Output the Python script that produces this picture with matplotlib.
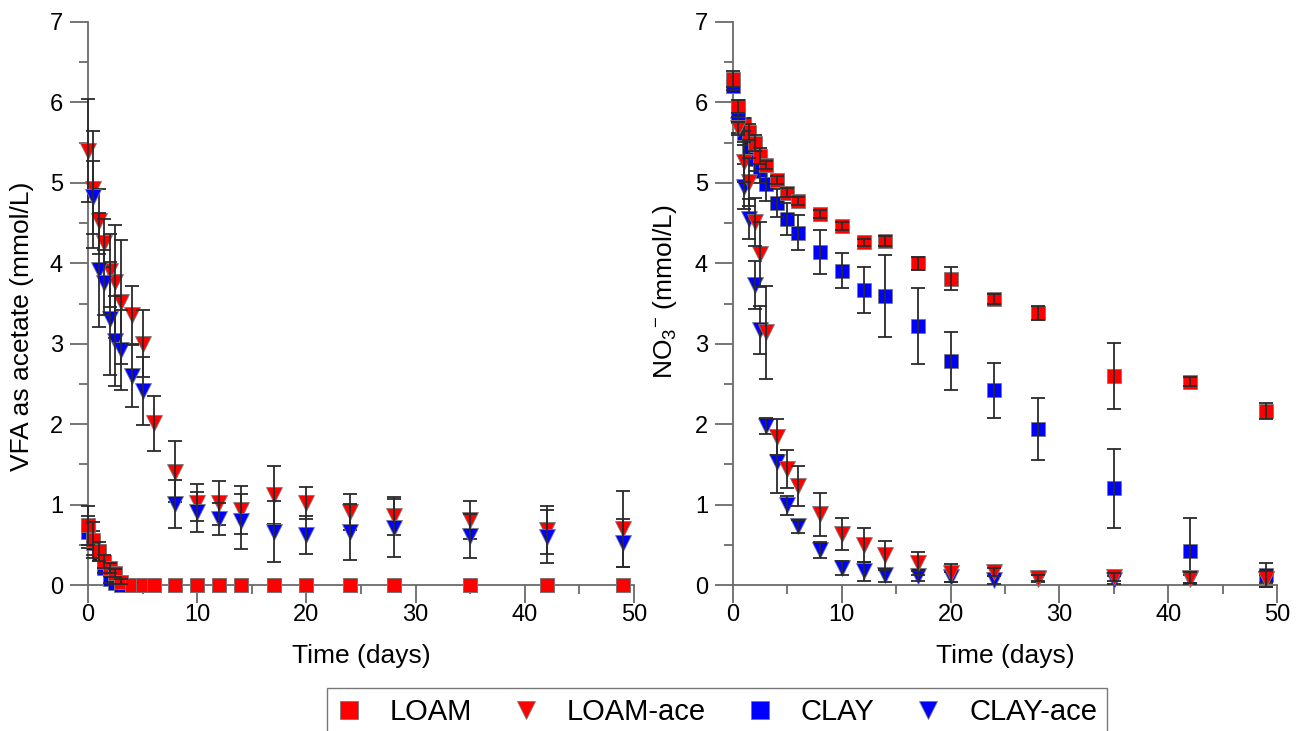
import matplotlib
matplotlib.use('Agg')
import matplotlib.pyplot as plt
from matplotlib.ticker import MultipleLocator
from matplotlib.lines import Line2D

plt.rcParams['font.family'] = ['Liberation Sans', 'DejaVu Sans']
plt.rcParams['mathtext.fontset'] = 'custom'
plt.rcParams['mathtext.rm'] = 'Liberation Sans'
plt.rcParams['mathtext.it'] = 'Liberation Sans:italic'
plt.rcParams['mathtext.bf'] = 'Liberation Sans:bold'

# ---------------- data ----------------
days = [0, 0.5, 1, 1.5, 2, 2.5, 3, 4, 5, 6, 8, 10, 12, 14, 17, 20, 24, 28, 35, 42, 49]

# Left panel: VFA as acetate (mmol/L)
vfa_loam = [0.74, 0.56, 0.42, 0.29, 0.21, 0.15, 0.04, 0, 0, 0, 0, 0, 0, 0, 0, 0, 0, 0, 0, 0, 0]
vfa_loam_err = [0.24, 0.22, 0.12, 0.08, 0.06, 0.05, 0.03, 0, 0, 0, 0, 0, 0, 0, 0, 0, 0, 0, 0, 0, 0]
vfa_clay = [0.66, 0.52, 0.40, 0.21, 0.07, 0.02, 0, 0, 0, 0, 0, 0, 0, 0, 0, 0, 0, 0, 0, 0, 0]
vfa_clay_err = [0.2, 0.15, 0.1, 0.06, 0.04, 0.02, 0, 0, 0, 0, 0, 0, 0, 0, 0, 0, 0, 0, 0, 0, 0]
vfa_loam_ace = [5.40, 4.92, 4.52, 4.25, 3.91, 3.77, 3.52, 3.36, 3.00, 2.01, 1.41, 1.02, 1.02, 0.93,
                1.12, 1.02, 0.91, 0.86, 0.81, 0.68, 0.70]
vfa_loam_ace_err = [0.64, 0.73, 0.40, 0.30, 0.45, 0.70, 0.77, 0.36, 0.42, 0.34, 0.38, 0.23, 0.27, 0.30,
                    0.36, 0.20, 0.22, 0.24, 0.24, 0.30, 0.47]
days_vfa_clay_ace = [0.5, 1, 1.5, 2, 2.5, 3, 4, 5, 8, 10, 12, 14, 17, 20, 24, 28, 35, 42, 49]
vfa_clay_ace = [4.82, 3.92, 3.76, 3.31, 3.03, 2.92, 2.60, 2.41, 1.01, 0.91, 0.82, 0.79, 0.66,
                0.62, 0.66, 0.71, 0.61, 0.60, 0.52]
vfa_clay_ace_err = [0.45, 0.71, 0.40, 0.70, 0.56, 0.50, 0.39, 0.42, 0.30, 0.25, 0.20, 0.34, 0.38,
                    0.24, 0.35, 0.36, 0.27, 0.33, 0.30]

# Right panel: NO3- (mmol/L)
no3_loam = [6.29, 5.95, 5.73, 5.63, 5.50, 5.33, 5.22, 5.03, 4.88, 4.78, 4.61, 4.46, 4.26, 4.28,
            4.00, 3.81, 3.56, 3.38, 2.60, 2.53, 2.16]
no3_loam_err = [0.10, 0.08, 0.08, 0.10, 0.10, 0.10, 0.05, 0.05, 0.05, 0.05, 0.05, 0.05, 0.04, 0.06,
                0.08, 0.14, 0.06, 0.09, 0.41, 0.05, 0.10]
no3_clay = [6.21, 5.84, 5.62, 5.45, 5.30, 5.15, 4.98, 4.75, 4.55, 4.38, 4.14, 3.91, 3.67, 3.59,
            3.22, 2.79, 2.42, 1.94, 1.20, 0.42, 0.12]
no3_clay_err = [0.05, 0.10, 0.15, 0.15, 0.15, 0.15, 0.20, 0.17, 0.20, 0.22, 0.27, 0.22, 0.29, 0.51,
                0.47, 0.36, 0.34, 0.39, 0.49, 0.41, 0.15]
days_ace = [0.5, 1, 1.5, 2, 2.5, 3, 4, 5, 6, 8, 10, 12, 14, 17, 20, 24, 28, 35, 42, 49]
no3_loam_ace = [5.68, 5.26, 5.01, 4.51, 4.11, 3.14, 1.84, 1.44, 1.23, 0.88, 0.63, 0.50, 0.37,
                0.27, 0.15, 0.16, 0.09, 0.10, 0.09, 0.08]
no3_loam_ace_err = [0.08, 0.25, 0.30, 0.30, 0.40, 0.58, 0.22, 0.24, 0.25, 0.27, 0.20, 0.21, 0.18,
                    0.14, 0.11, 0.05, 0.04, 0.05, 0.07, 0.10]
no3_clay_ace = [5.72, 4.95, 4.55, 3.73, 3.17, 1.98, 1.53, 0.99, 0.73, 0.44, 0.21, 0.17, 0.12,
                0.11, 0.10, 0.06, 0.08, 0.06, 0.07, 0.08]
no3_clay_ace_err = [0.10, 0.28, 0.25, 0.30, 0.30, 0.10, 0.38, 0.12, 0.08, 0.10, 0.09, 0.12, 0.08,
                    0.06, 0.06, 0.05, 0.04, 0.05, 0.05, 0.05]

labels = ['LOAM', 'LOAM-ace', 'CLAY', 'CLAY-ace']
RED = '#ff0000'
BLUE = '#0000ff'
EDGE = '#7a7a7a'
AXC = '#6a6a6a'
ERRC = '#2a2a2a'

fig = plt.figure(figsize=(13.05, 7.31), dpi=100)
W, H = 1305, 731
ax1 = fig.add_axes([88 / W, (H - 585) / H, 546 / W, 563 / H])
ax2 = fig.add_axes([733 / W, (H - 585) / H, 544 / W, 563 / H])


def series(ax, t, y, e, marker, color, z, ms):
    tt = [a for a, b in zip(t, e) if b > 0]
    yy = [a for a, b in zip(y, e) if b > 0]
    ee = [b for b in e if b > 0]
    if tt:
        cont = ax.errorbar(tt, yy, yerr=ee, fmt='none', ecolor=ERRC, elinewidth=1.3,
                           capsize=5, capthick=1.3, zorder=z + 0.5)
        for art in list(cont.lines[1]) + list(cont.lines[2]):
            art.set_clip_on(False)
    ax.plot(t, y, linestyle='none', marker=marker, ms=ms, mfc=color, mec=EDGE, mew=0.6,
            zorder=z, clip_on=False)


SQ = 10
TR = 11
# left panel
series(ax1, days, vfa_clay, vfa_clay_err, 's', BLUE, 3, SQ)
series(ax1, days, vfa_loam, vfa_loam_err, 's', RED, 4, SQ)
series(ax1, days, vfa_loam_ace, vfa_loam_ace_err, 'v', RED, 5, TR)
series(ax1, days_vfa_clay_ace, vfa_clay_ace, vfa_clay_ace_err, 'v', BLUE, 6, TR)
# right panel
series(ax2, days, no3_clay, no3_clay_err, 's', BLUE, 3, SQ)
series(ax2, days, no3_loam, no3_loam_err, 's', RED, 4, SQ)
series(ax2, days_ace, no3_clay_ace, no3_clay_ace_err, 'v', BLUE, 5, TR)
series(ax2, days_ace, no3_loam_ace, no3_loam_ace_err, 'v', RED, 6, TR)

for ax in (ax1, ax2):
    ax.set_xlim(0, 50)
    ax.set_ylim(0, 7)
    ax.spines['top'].set_visible(False)
    ax.spines['right'].set_visible(False)
    for s in ('left', 'bottom'):
        ax.spines[s].set_color(AXC)
        ax.spines[s].set_linewidth(1.3)
        ax.spines[s].set_zorder(2)
    ax.xaxis.set_major_locator(MultipleLocator(10))
    ax.xaxis.set_minor_locator(MultipleLocator(5))
    ax.yaxis.set_major_locator(MultipleLocator(1))
    ax.yaxis.set_minor_locator(MultipleLocator(0.5))
    ax.tick_params(which='major', length=13, width=1.3, color=AXC, labelsize=17,
                   direction='out', labelcolor='black')
    ax.tick_params(which='minor', length=6.5, width=1.3, color=AXC, direction='out')
    ax.tick_params(axis='x', which='major', pad=1)
    ax.tick_params(axis='y', which='major', pad=5)
    ax.set_xlabel('Time (days)', fontsize=19)
    ax.xaxis.set_label_coords(0.5, -0.105)

ax1.set_ylabel('VFA as acetate (mmol/L)', fontsize=19)
ax1.yaxis.set_label_coords(-0.099, 0.46)
ax2.set_ylabel('NO$_3$$^{-}$ (mmol/L)', fontsize=19)
ax2.yaxis.set_label_coords(-0.099, 0.52)

LMS = 13
handles = [
    Line2D([], [], linestyle='none', marker='s', ms=LMS, mfc=RED, mec=EDGE, mew=0.6),
    Line2D([], [], linestyle='none', marker='v', ms=LMS, mfc=RED, mec=EDGE, mew=0.6),
    Line2D([], [], linestyle='none', marker='s', ms=LMS, mfc=BLUE, mec=EDGE, mew=0.6),
    Line2D([], [], linestyle='none', marker='v', ms=LMS, mfc=BLUE, mec=EDGE, mew=0.6),
]
leg = fig.legend(handles, labels, loc='upper center', bbox_to_anchor=(717 / W, 1 - 688 / H),
                 ncol=4, frameon=True, fancybox=False, edgecolor='#555555',
                 prop={'size': 21},
                 handlelength=0.8, handletextpad=1.0, columnspacing=1.45, borderpad=0.35,
                 borderaxespad=0)
leg.get_frame().set_linewidth(1.0)

fig.savefig('out.png', dpi=100)
